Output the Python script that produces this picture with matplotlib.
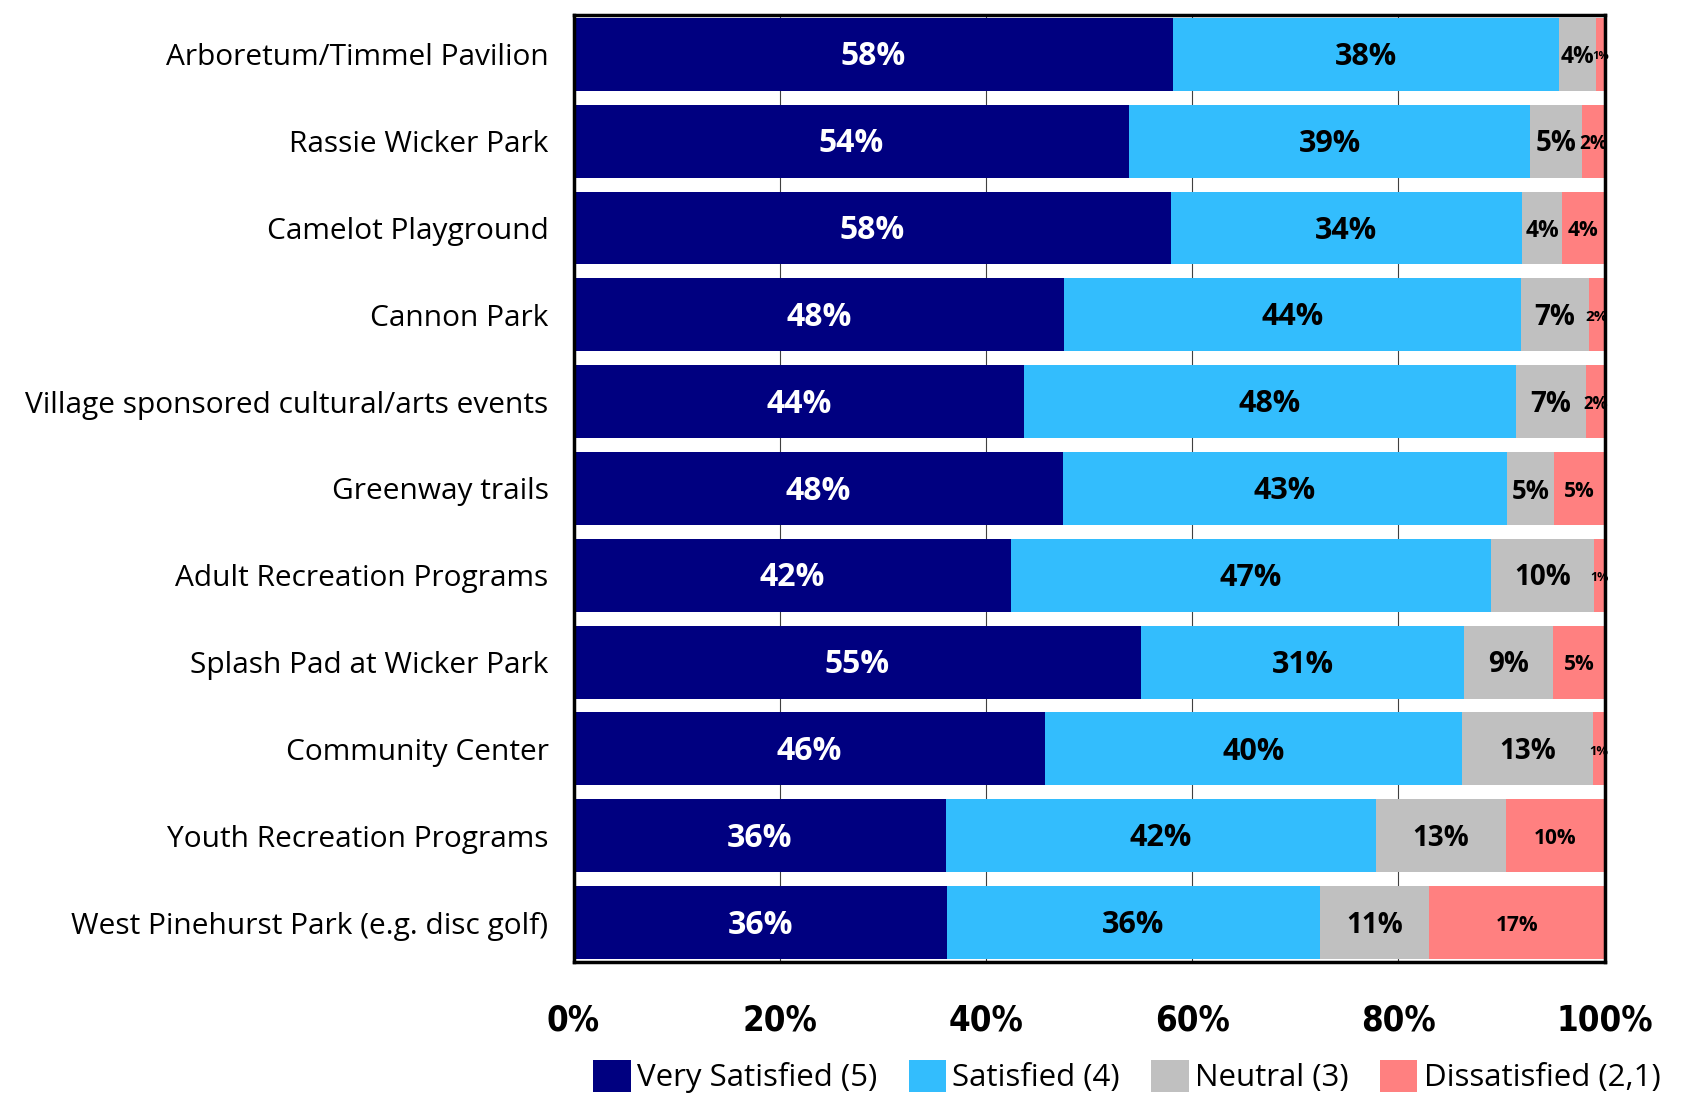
import matplotlib.pyplot as plt
import numpy as np

# Satisfaction with parks / programs, share of respondents (%)
categories = [
    "Arboretum/Timmel Pavilion",
    "Rassie Wicker Park",
    "Camelot Playground",
    "Cannon Park",
    "Village sponsored cultural/arts events",
    "Greenway trails",
    "Adult Recreation Programs",
    "Splash Pad at Wicker Park",
    "Community Center",
    "Youth Recreation Programs",
    "West Pinehurst Park (e.g. disc golf)",
]
very_satisfied = [58.1, 53.9, 57.9, 47.6, 43.7, 47.5, 42.4, 55.0, 45.7, 36.1, 36.2]
satisfied      = [37.5, 38.9, 34.1, 44.3, 47.7, 43.0, 46.6, 31.4, 40.5, 41.7, 36.2]
neutral        = [3.6, 5.0, 3.9, 6.6, 6.8, 4.6, 10.0, 8.6, 12.7, 12.6, 10.6]
dissatisfied   = [0.8, 2.2, 4.1, 1.5, 1.8, 4.9, 1.0, 5.0, 1.1, 9.6, 17.0]

series_names = ["Very Satisfied (5)", "Satisfied (4)", "Neutral (3)", "Dissatisfied (2,1)"]
ticks = [0, 20, 40, 60, 80, 100]

colors = ["#000080", "#33BDFD", "#C0C0C0", "#FF8080"]
text_colors = ["white", "black", "black", "black"]
base_sizes = [23, 22, 20, 15]


def label_size(v, base):
    # narrow segments get smaller labels so they stay inside the bar
    if v < 3:
        return 5 + 4 * v
    if v < 4:
        return min(base, 16.5)
    if v < 5:
        return min(base, 18.5)
    return base


fig = plt.figure(figsize=(16.82, 10.94), dpi=100)
ax = fig.add_axes([0.341, 0.121, 0.613, 0.865])

y = np.arange(len(categories))
left = np.zeros(len(categories))
all_series = [very_satisfied, satisfied, neutral, dissatisfied]

for vals, name, col, tcol, bsize in zip(all_series, series_names, colors, text_colors, base_sizes):
    vals = np.array(vals)
    ax.barh(y, vals, left=left, height=0.84, color=col, label=name, zorder=2)
    for yi, (l, v) in enumerate(zip(left, vals)):
        ax.text(l + v / 2, yi + 0.03, f"{round(v)}%", ha="center", va="center",
                color=tcol, fontsize=label_size(v, bsize), fontweight="bold",
                family="Open Sans", zorder=3)
    left += vals

ax.set_xlim(0, 100)
ax.set_ylim(len(categories) - 1 + 0.45, -0.45)
ax.set_yticks(y)
ax.set_yticklabels(categories, family="Open Sans", fontsize=21.5)
ax.set_xticks(ticks)
ax.set_xticklabels([f"{t}%" for t in ticks], family="DejaVu Sans", stretch="condensed",
                   fontsize=25, fontweight="bold")
ax.tick_params(axis="y", length=0, pad=18)
ax.tick_params(axis="x", length=0, pad=30)
ax.xaxis.grid(True, color="#404040", linewidth=0.8, zorder=0)
ax.set_axisbelow(True)
for sp in ax.spines.values():
    sp.set_linewidth(2.5)
    sp.set_color("black")

fig.legend(loc="lower center", bbox_to_anchor=(0.67, -0.025), ncol=4, frameon=False,
           prop={"family": "Open Sans", "size": 22.5}, handlelength=1.2, handleheight=1.2,
           handletextpad=0.2, columnspacing=1.0)

fig.savefig("out.png", dpi=100)
